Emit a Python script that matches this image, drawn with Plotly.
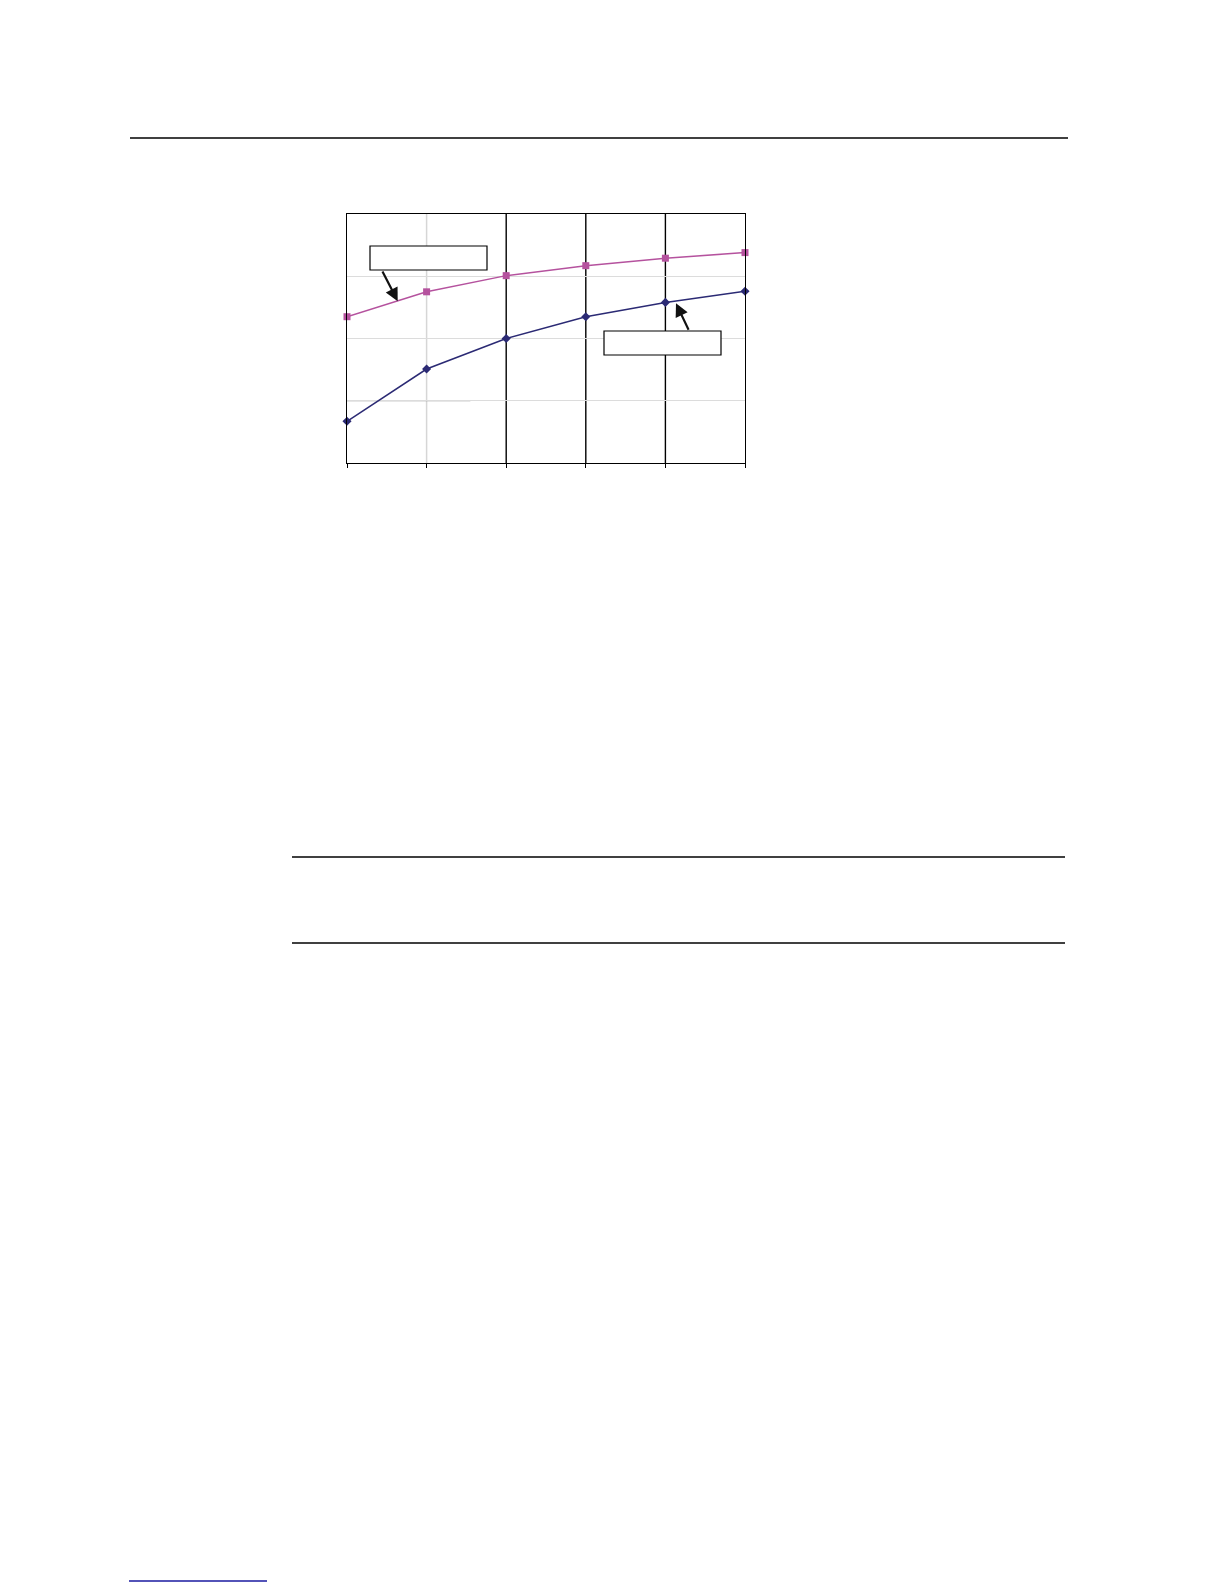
import plotly.graph_objects as go

# data (x steps 0..5, y in grid units 0..4)
x_steps = [0, 1, 2, 3, 4, 5]
upper_series = [2.35, 2.75, 3.01, 3.17, 3.29, 3.38]
lower_series = [0.67, 1.51, 2.00, 2.35, 2.58, 2.76]

PINK = "#B5529E"
NAVY = "#2B2A74"

W, H = 1224, 1584
L, R, T, B = 339, 737, 206, 455  # plot area in px


def px(xp):
    return (xp - L) / (R - L)


def py(yp):
    return (B - yp) / (B - T)


fig = go.Figure()
fig.add_scatter(x=x_steps, y=upper_series, mode="lines+markers",
                line=dict(color=PINK, width=1.5),
                marker=dict(symbol="square", size=7, color=PINK),
                cliponaxis=False, showlegend=False)
fig.add_scatter(x=x_steps, y=lower_series, mode="lines+markers",
                line=dict(color=NAVY, width=1.5),
                marker=dict(symbol="diamond", size=7, color=NAVY),
                cliponaxis=False, showlegend=False)

shapes = []
# vertical gridlines: light at 1, black at 2, 3, 4
shapes.append(dict(type="line", xref="x", yref="y", x0=1, x1=1, y0=0, y1=4,
                   line=dict(color="#d6d6d6", width=1.5), layer="below"))
for xv in [2, 3, 4]:
    shapes.append(dict(type="line", xref="x", yref="y", x0=xv, x1=xv, y0=0, y1=4,
                       line=dict(color="black", width=1.4), layer="below"))
# partial darker horizontal line at y=1
shapes.append(dict(type="line", xref="x", yref="y", x0=-0.04, x1=1.55, y0=1, y1=1,
                   line=dict(color="#9a9a9a", width=1), layer="below"))
# label boxes (empty)
shapes.append(dict(type="rect", xref="paper", yref="paper",
                   x0=px(362), x1=px(479), y0=py(262), y1=py(238),
                   line=dict(color="black", width=1.2), fillcolor="white"))
shapes.append(dict(type="rect", xref="paper", yref="paper",
                   x0=px(596), x1=px(713), y0=py(347), y1=py(323),
                   line=dict(color="black", width=1.2), fillcolor="white"))
# page rules
shapes.append(dict(type="line", xref="paper", yref="paper", x0=px(122), x1=px(1060),
                   y0=py(130), y1=py(130), line=dict(color="black", width=1.5)))
for yy in [849, 935]:
    shapes.append(dict(type="line", xref="paper", yref="paper", x0=px(284), x1=px(1057),
                       y0=py(yy), y1=py(yy), line=dict(color="black", width=1.5)))
shapes.append(dict(type="line", xref="paper", yref="paper", x0=px(121), x1=px(259),
                   y0=py(1573), y1=py(1573), line=dict(color="#1a1aa0", width=1.6)))
shapes.append(dict(type="line", xref="paper", yref="paper", x0=px(1214), x1=px(1214),
                   y0=py(0), y1=py(28), line=dict(color="black", width=2)))

annotations = [
    dict(x=0.637, y=2.60, ax=0.436, ay=3.10, xref="x", yref="y", axref="x", ayref="y",
         text="", showarrow=True, arrowhead=2, arrowsize=1.2, arrowwidth=2.2, arrowcolor="#111"),
    dict(x=4.133, y=2.566, ax=4.30, ay=2.116, xref="x", yref="y", axref="x", ayref="y",
         text="", showarrow=True, arrowhead=2, arrowsize=1.2, arrowwidth=2.2, arrowcolor="#111"),
]

fig.update_layout(
    width=W, height=H,
    margin=dict(l=L, r=W - R, t=T, b=H - B, pad=0),
    paper_bgcolor="white", plot_bgcolor="white",
    shapes=shapes, annotations=annotations,
    xaxis=dict(range=[0, 5], dtick=1, showgrid=False,
               zeroline=False, showline=True, linecolor="black", linewidth=1.3, mirror=True,
               ticks="outside", ticklen=4, tickcolor="black", showticklabels=False,
               fixedrange=True),
    yaxis=dict(range=[0, 4], dtick=1, showgrid=True, gridcolor="#dcdcdc", gridwidth=1,
               zeroline=False, showline=True, linecolor="black", linewidth=1.3, mirror=True,
               ticks="", showticklabels=False, fixedrange=True),
)

fig.write_html("out.html")
